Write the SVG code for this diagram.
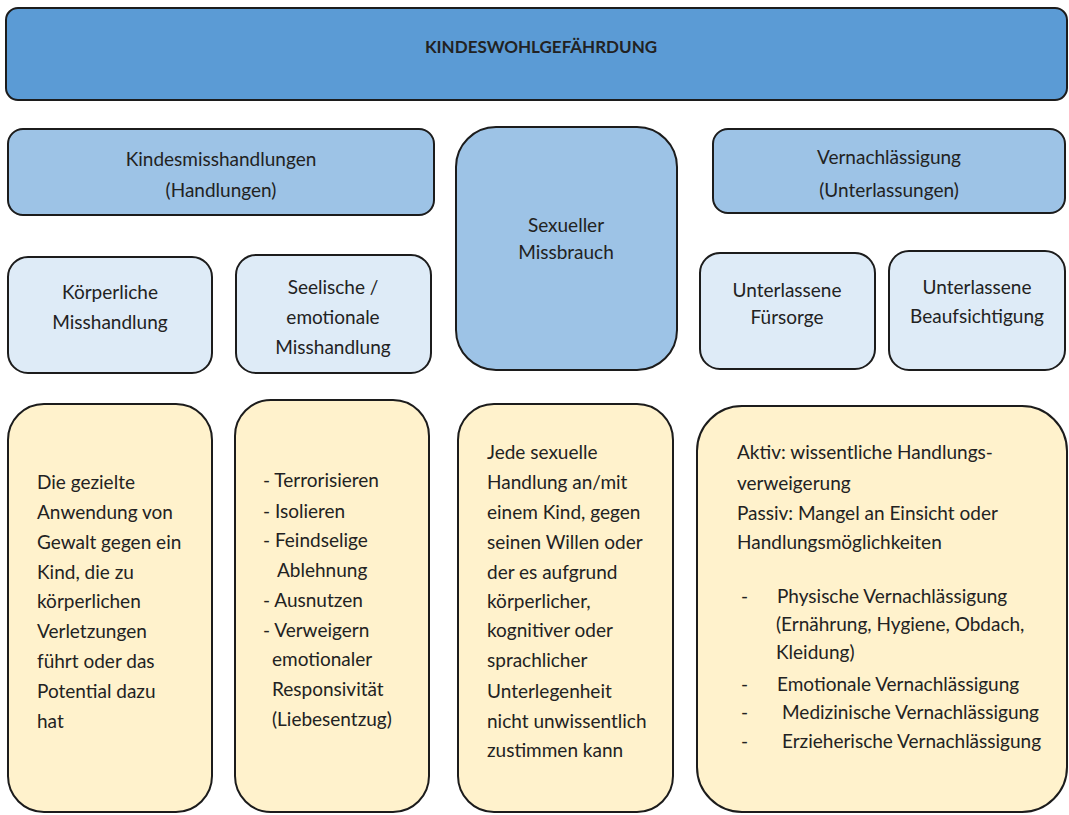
<svg xmlns="http://www.w3.org/2000/svg" width="1069" height="815" viewBox="0 0 1069 815">
<style>
.box{stroke:#1c1c1c;stroke-width:2}
.l0{fill:#5b9bd5}
.l1{fill:#9dc3e6}
.l2{fill:#deebf7}
.l3{fill:#fff2cc}
text{font-family:Lato,"Liberation Sans",sans-serif;font-size:19px;fill:#222}
.c{text-anchor:middle}
.t{font-weight:bold;font-size:17px}
</style>
<g id="kindeswohlgefaehrdung">
<rect class="box l0" x="6" y="8" width="1061" height="92" rx="12"/>
<text class="c t" x="541" y="53">KINDESWOHLGEFÄHRDUNG</text>
</g>
<g id="kindesmisshandlungen">
<rect class="box l1" x="8" y="129" width="426" height="86" rx="15"/>
<text class="c" x="221" y="166">Kindesmisshandlungen</text>
<text class="c" x="221" y="197">(Handlungen)</text>
</g>
<g id="sexueller-missbrauch">
<rect class="box l1" x="456" y="127" width="221" height="243" rx="40"/>
<text class="c" x="566" y="232">Sexueller</text>
<text class="c" x="566" y="259">Missbrauch</text>
</g>
<g id="vernachlaessigung">
<rect class="box l1" x="713" y="129" width="352" height="84" rx="15"/>
<text class="c" x="889" y="164">Vernachlässigung</text>
<text class="c" x="889" y="197">(Unterlassungen)</text>
</g>
<g id="koerperliche">
<rect class="box l2" x="8" y="257" width="204" height="116" rx="20"/>
<text class="c" x="110" y="299">Körperliche</text>
<text class="c" x="110" y="329">Misshandlung</text>
</g>
<g id="seelische">
<rect class="box l2" x="236" y="255" width="195" height="118" rx="20"/>
<text class="c" x="333" y="294">Seelische /</text>
<text class="c" x="333" y="324">emotionale</text>
<text class="c" x="333" y="354">Misshandlung</text>
</g>
<g id="fuersorge">
<rect class="box l2" x="700" y="253" width="175" height="116" rx="20"/>
<text class="c" x="787" y="297">Unterlassene</text>
<text class="c" x="787" y="324">Fürsorge</text>
</g>
<g id="beaufsichtigung">
<rect class="box l2" x="889" y="251" width="176" height="119" rx="20"/>
<text class="c" x="977" y="294">Unterlassene</text>
<text class="c" x="977" y="323">Beaufsichtigung</text>
</g>
<g id="desc-koerperlich">
<rect class="box l3" x="8" y="404" width="204" height="408" rx="36"/>
<text x="37" y="489">Die gezielte</text>
<text x="37" y="519">Anwendung von</text>
<text x="37" y="549">Gewalt gegen ein</text>
<text x="37" y="579">Kind, die zu</text>
<text x="37" y="608">körperlichen</text>
<text x="37" y="638">Verletzungen</text>
<text x="37" y="668">führt oder das</text>
<text x="37" y="698">Potential dazu</text>
<text x="37" y="728">hat</text>
</g>
<g id="desc-seelisch">
<rect class="box l3" x="235" y="400" width="194" height="412" rx="36"/>
<text x="263" y="487">- Terrorisieren</text>
<text x="263" y="518">- Isolieren</text>
<text x="263" y="547">- Feindselige</text>
<text x="277" y="577">Ablehnung</text>
<text x="263" y="607">- Ausnutzen</text>
<text x="263" y="637">- Verweigern</text>
<text x="272" y="666">emotionaler</text>
<text x="272" y="696">Responsivität</text>
<text x="272" y="726">(Liebesentzug)</text>
</g>
<g id="desc-sexuell">
<rect class="box l3" x="458" y="404" width="215" height="408" rx="36"/>
<text x="487" y="459">Jede sexuelle</text>
<text x="487" y="489">Handlung an/mit</text>
<text x="487" y="519">einem Kind, gegen</text>
<text x="487" y="549">seinen Willen oder</text>
<text x="487" y="579">der es aufgrund</text>
<text x="487" y="608">körperlicher,</text>
<text x="487" y="637">kognitiver oder</text>
<text x="487" y="667">sprachlicher</text>
<text x="487" y="698">Unterlegenheit</text>
<text x="487" y="728">nicht unwissentlich</text>
<text x="487" y="757">zustimmen kann</text>
</g>
<g id="desc-vernachlaessigung">
<rect class="box l3" x="697" y="406" width="370" height="406" rx="45"/>
<text x="737" y="459">Aktiv: wissentliche Handlungs-</text>
<text x="737" y="490">verweigerung</text>
<text x="737" y="520">Passiv: Mangel an Einsicht oder</text>
<text x="737" y="549">Handlungsmöglichkeiten</text>
<text x="741" y="603">-</text>
<text x="777" y="603">Physische Vernachlässigung</text>
<text x="776" y="631">(Ernährung, Hygiene, Obdach,</text>
<text x="776" y="659">Kleidung)</text>
<text x="741" y="691">-</text>
<text x="777" y="691">Emotionale Vernachlässigung</text>
<text x="741" y="719">-</text>
<text x="782" y="719">Medizinische Vernachlässigung</text>
<text x="741" y="748">-</text>
<text x="782" y="748">Erzieherische Vernachlässigung</text>
</g>
<g id="connectors"></g>
</svg>
